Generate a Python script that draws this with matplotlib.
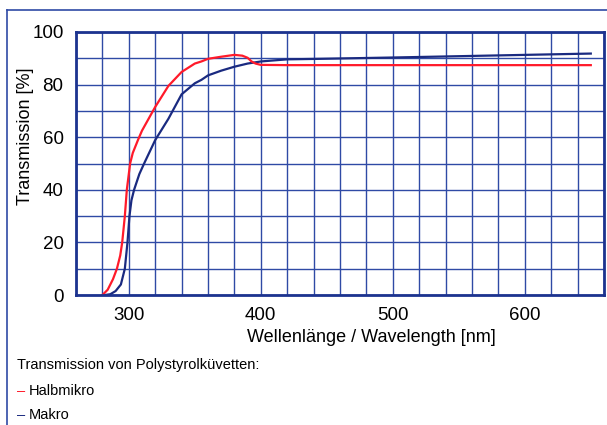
import matplotlib.pyplot as plt
from matplotlib.lines import Line2D

wl_red = [280, 284, 288, 291, 293.5, 295, 297, 298.5, 300, 301, 303, 307, 310, 315, 320, 330, 340, 350, 355,
          360, 370, 380, 386, 390, 393, 396, 400, 420, 500, 600, 650]
t_red = [0, 2, 6, 10, 15, 20, 30, 40, 46, 50, 54, 59, 62.5, 67, 71.5, 79.5, 84.8, 88, 88.8,
         89.8, 90.6, 91.3, 91, 90.2, 88.8, 88, 87.5, 87.4, 87.4, 87.4, 87.4]

wl_blue = [282, 286, 290, 294, 297, 299, 300.5, 302, 304, 308, 311.6, 320, 330, 340, 350, 355, 360, 370,
           380, 390, 400, 420, 445, 500, 550, 600, 650]
t_blue = [0, 0.3, 1.5, 4, 10, 20, 30, 36, 40, 46, 50, 58.9, 67, 76.3, 80.5, 81.8, 83.5, 85.3,
          86.8, 88, 88.8, 89.6, 89.8, 90.3, 90.8, 91.3, 91.8]

xticks = [300, 400, 500, 600]
yticks = [0, 20, 40, 60, 80, 100]

narrow = ['Liberation Sans', 'DejaVu Sans']
gridc = '#2f4aa5'
darkc = '#1c338f'
red = '#ff1a2a'
navy = '#1a2a80'

fig = plt.figure(figsize=(6.07, 4.25), dpi=100)
ax = fig.add_axes([76/607, 1-295/425, 528/607, 263/425])

ax.set_xlim(260, 660)
ax.set_ylim(0, 100)
ax.set_xticks(range(260, 661, 20), minor=True)
ax.set_yticks(range(0, 101, 10), minor=True)
ax.set_xticks(xticks)
ax.set_yticks(yticks)
ax.grid(True, which='both', color=gridc, lw=1.0)
ax.set_axisbelow(True)
ax.tick_params(which='both', length=0)
ax.tick_params(axis='x', pad=9, labelsize=13.5)
ax.tick_params(axis='y', pad=9, labelsize=13.5)
for lab in ax.get_xticklabels() + ax.get_yticklabels():
    lab.set_family(narrow)
for s in ax.spines.values():
    s.set_color(darkc)
    s.set_linewidth(2)

ax.plot(wl_blue, t_blue, color=navy, lw=1.6)
ax.plot(wl_red, t_red, color=red, lw=1.6)

ax.set_xlabel('Wellenlänge / Wavelength [nm]', fontsize=13, family=narrow)
ax.xaxis.set_label_coords(295/528, -42/263)
ax.xaxis.label.set_va('center')
ax.set_ylabel('Transmission [%]', fontsize=13, family=narrow)
ax.yaxis.set_label_coords(-51/528, 159/263)
ax.yaxis.label.set_va('center')

# outer frame
fig.add_artist(Line2D([7/607, 1], [1-10/425, 1-10/425], color=gridc, lw=1.2, transform=fig.transFigure))
fig.add_artist(Line2D([7/607, 7/607], [0, 1-10/425], color=gridc, lw=1.2, transform=fig.transFigure))

# legend text below the chart
fs = 10.5
fig.text(17/607, 1-365/425, 'Transmission von Polystyrolküvetten:', fontsize=fs, family=narrow, va='center')
fig.text(17/607, 1-391/425, '–', fontsize=fs, family=narrow, va='center', color=red)
fig.text(29/607, 1-391/425, 'Halbmikro', fontsize=fs, family=narrow, va='center')
fig.text(17/607, 1-415/425, '–', fontsize=fs, family=narrow, va='center', color=navy)
fig.text(29/607, 1-415/425, 'Makro', fontsize=fs, family=narrow, va='center')

fig.savefig('out.png', dpi=100)
